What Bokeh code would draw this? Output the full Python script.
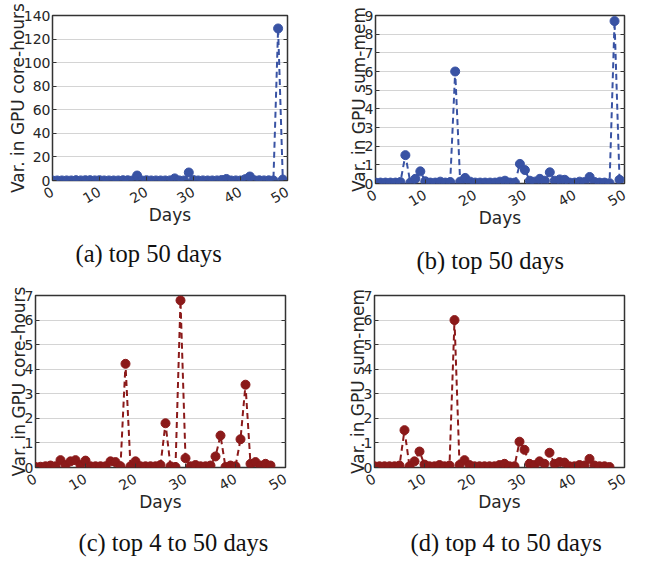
from bokeh.plotting import figure
from bokeh.layouts import column, row
from bokeh.models import Range1d, LinearAxis, FixedTicker, Title
from bokeh.embed import file_html
from bokeh.resources import INLINE
import math

# ---------------- data ----------------
days_top50 = list(range(50))
days_top4_50 = list(range(48))

core_top50 = [0.02, 0.03, 0.05, 0.08, 0.05, 0.3, 0.1, 0.25, 0.3, 0.1,
              0.28, 0.05, 0.05, 0.05, 0.05, 0.25, 0.22, 0.05, 4.22, 0.05,
              0.25, 0.05, 0.05, 0.05, 0.05, 0.1, 1.8, 0.05, 0.02, 6.8,
              0.38, 0.05, 0.1, 0.05, 0.05, 0.08, 0.45, 1.3, 0.02, 0.08,
              0.05, 1.15, 3.37, 0.15, 0.22, 0.08, 0.15, 0.08, 129.0, 0.8]

mem_top50 = [0.05, 0.05, 0.05, 0.05, 0.05, 0.08, 1.52, 0.05, 0.25, 0.65,
             0.12, 0.05, 0.05, 0.1, 0.05, 0.08, 6.0, 0.1, 0.3, 0.1,
             0.05, 0.05, 0.05, 0.05, 0.05, 0.1, 0.15, 0.05, 0.05, 1.05,
             0.72, 0.15, 0.1, 0.25, 0.15, 0.6, 0.15, 0.22, 0.2, 0.05,
             0.05, 0.1, 0.08, 0.35, 0.08, 0.05, 0.05, 0.02, 8.7, 0.2]

core_top4_50 = [0.02, 0.03, 0.05, 0.08, 0.05, 0.3, 0.1, 0.25, 0.3, 0.1,
                0.28, 0.05, 0.05, 0.05, 0.05, 0.25, 0.22, 0.05, 4.22, 0.05,
                0.25, 0.05, 0.05, 0.05, 0.05, 0.1, 1.8, 0.05, 0.02, 6.8,
                0.38, 0.05, 0.1, 0.05, 0.05, 0.08, 0.45, 1.3, 0.02, 0.08,
                0.05, 1.15, 3.37, 0.15, 0.22, 0.08, 0.15, 0.08]

mem_top4_50 = [0.05, 0.05, 0.05, 0.05, 0.05, 0.08, 1.52, 0.05, 0.25, 0.65,
               0.12, 0.05, 0.05, 0.1, 0.05, 0.08, 6.0, 0.1, 0.3, 0.1,
               0.05, 0.05, 0.05, 0.05, 0.05, 0.1, 0.15, 0.05, 0.05, 1.05,
               0.72, 0.15, 0.1, 0.25, 0.15, 0.6, 0.15, 0.22, 0.2, 0.05,
               0.05, 0.1, 0.08, 0.35, 0.08, 0.05, 0.05, 0.02]

x_ticks = [0, 10, 20, 30, 40, 50]
yticks_a = [0, 20, 40, 60, 80, 100, 120, 140]
yticks_b = [0, 1, 2, 3, 4, 5, 6, 7, 8, 9]
yticks_cd = [0, 1, 2, 3, 4, 5, 6, 7]

BLUE = "#3953a4"
RED = "#8b1a1a"
SANS = "DejaVu Sans"
SERIF = "Liberation Serif"
TXT = "#262626"

TITLE_HAS_STANDOFF = "standoff" in Title.properties()


def make_fig(xs, ys, color, ymax, yticks, ylabel, caption,
             fw, fh, bl, br, bt, bb, cap_standoff, cap_offset):
    p = figure(frame_width=fw, frame_height=fh,
               x_range=Range1d(0, 50), y_range=Range1d(0, ymax),
               output_backend="svg", toolbar_location=None,
               min_border_left=bl, min_border_right=br,
               min_border_top=bt, min_border_bottom=bb)
    p.background_fill_color = "white"
    p.border_fill_color = "white"
    p.outline_line_color = "#333333"
    p.outline_line_width = 1.5

    p.line(xs, ys, line_color=color, line_width=2, line_dash="6 4")
    p.scatter(xs, ys, size=9, fill_color=color, line_color=color)

    p.xgrid.visible = False
    p.ygrid.grid_line_color = "#d4d4d4"
    p.ygrid.grid_line_width = 1
    p.ygrid.ticker = FixedTicker(ticks=yticks)

    xa = p.xaxis[0]
    xa.ticker = FixedTicker(ticks=x_ticks)
    xa.axis_line_color = None
    xa.major_tick_in = 4
    xa.major_tick_out = 0
    xa.major_tick_line_color = "#333333"
    xa.minor_tick_line_color = None
    xa.major_label_orientation = math.pi / 6
    xa.major_label_standoff = 10
    xa.major_label_text_font = SANS
    xa.major_label_text_font_size = "14px"
    xa.major_label_text_color = TXT
    xa.axis_label = "Days"
    xa.axis_label_standoff = -6
    xa.axis_label_text_font = SANS
    xa.axis_label_text_font_size = "17px"
    xa.axis_label_text_font_style = "normal"
    xa.axis_label_text_color = TXT

    ya = p.yaxis[0]
    ya.ticker = FixedTicker(ticks=yticks)
    ya.axis_line_color = None
    ya.major_tick_in = 4
    ya.major_tick_out = 0
    ya.major_tick_line_color = "#333333"
    ya.minor_tick_line_color = None
    ya.major_label_standoff = 2
    ya.major_label_text_font = SANS
    ya.major_label_text_font_size = "14px"
    ya.major_label_text_color = TXT
    ya.axis_label = ylabel
    ya.axis_label_standoff = -7
    ya.axis_label_text_font = SANS
    ya.axis_label_text_font_size = "17px"
    ya.axis_label_text_font_style = "normal"
    ya.axis_label_text_color = TXT

    ra = LinearAxis(ticker=FixedTicker(ticks=yticks))
    ra.axis_line_color = None
    ra.major_tick_in = 4
    ra.major_tick_out = 0
    ra.major_tick_line_color = "#333333"
    ra.minor_tick_line_color = None
    ra.major_label_text_font_size = "2px"
    ra.major_label_text_color = None
    ra.major_label_standoff = 0
    p.add_layout(ra, "right")

    if TITLE_HAS_STANDOFF:
        t = Title(text=caption, align="left", offset=cap_offset,
                  standoff=cap_standoff,
                  text_font=SERIF, text_font_size="24.5px",
                  text_font_style="normal", text_color="#111111")
        p.add_layout(t, "below")
    else:
        ca = LinearAxis(ticker=FixedTicker(ticks=[]))
        ca.axis_line_color = None
        ca.major_tick_line_color = None
        ca.minor_tick_line_color = None
        ca.major_label_standoff = 0
        ca.major_tick_in = 0
        ca.major_tick_out = 0
        ca.axis_label = caption
        ca.axis_label_standoff = cap_standoff
        ca.axis_label_text_font = SERIF
        ca.axis_label_text_font_size = "24.5px"
        ca.axis_label_text_font_style = "normal"
        ca.axis_label_text_color = "#111111"
        p.add_layout(ca, "below")
    return p


pa = make_fig(days_top50, core_top50, BLUE, 140, yticks_a,
              "Var. in GPU core-hours", "(a) top 50 days",
              235, 165, 52, 35, 15, 100, 19, 23)
pb = make_fig(days_top50, mem_top50, BLUE, 9, yticks_b,
              "Var. in GPU sum-mem", "(b) top 50 days",
              249, 168, 53, 15, 15, 97, 27, 41)
pc = make_fig(days_top4_50, core_top4_50, RED, 7, yticks_cd,
              "Var. in GPU core-hours", "(c) top 4 to 50 days",
              250, 172, 35, 37, 8, 80, 22, 43)
pd = make_fig(days_top4_50, mem_top4_50, RED, 7, yticks_cd,
              "Var. in GPU sum-mem", "(d) top 4 to 50 days",
              250, 172, 52, 15, 8, 80, 22, 36)

layout = column(row(pa, pb), row(pc, pd))
open("out.html", "w").write(file_html(layout, INLINE))
